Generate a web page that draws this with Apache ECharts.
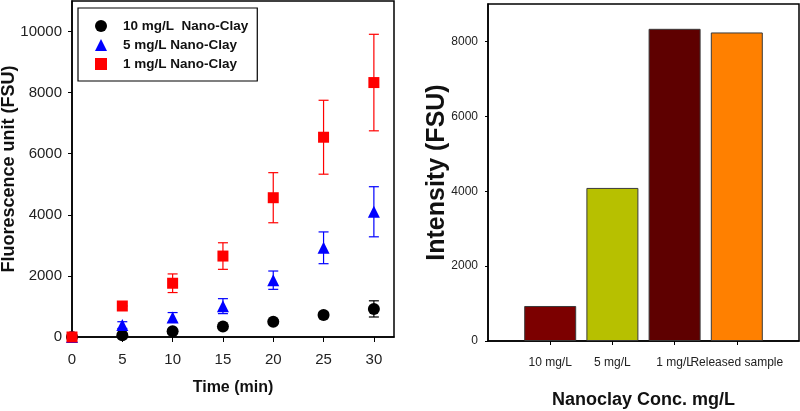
<!DOCTYPE html>
<html>
<head>
<meta charset="utf-8">
<script src="https://cdn.jsdelivr.net/npm/echarts@6/dist/echarts.min.js"></script>
<style>
  html, body { margin: 0; padding: 0; background: #fff; }
  #main { width: 800px; height: 411px; }
</style>
</head>
<body>
<div id="main"></div>
<script>
// ---- Data: left panel (fluorescence vs time) ----
const timePoints = [0, 5, 10, 15, 20, 25, 30];
const seriesNames = ['10 mg/L  Nano-Clay', '5 mg/L Nano-Clay', '1 mg/L Nano-Clay'];
const clay10Values = [0, 60, 190, 340, 500, 720, 920];
const clay10Errors = [0, 30, 60, 60, 70, 90, 265];
const clay5Values = [0, 390, 640, 1010, 1860, 2920, 4100];
const clay5Errors = [60, 110, 160, 245, 300, 520, 820];
const clay1Values = [0, 1015, 1760, 2650, 4560, 6540, 8330];
const clay1Errors = [0, 0, 305, 435, 820, 1210, 1580];
const xTickValues = [0, 5, 10, 15, 20, 25, 30];
const yTickValuesLeft = [0, 2000, 4000, 6000, 8000, 10000];

// ---- Data: right panel (intensity by concentration) ----
const barCategories = ['10 mg/L', '5 mg/L', '1 mg/L', 'Released sample'];
const barValues = [935, 4088, 8337, 8240];
const yTickValuesRight = [0, 2000, 4000, 6000, 8000];

const barColors = ['#7c0000', '#b7c000', '#5e0000', '#ff8000'];
const markerColors = ['#000000', '#0000ff', '#ff0000'];
const markerSymbols = ['circle', 'triangle', 'rect'];
const markerSizes = [12, 12, 11];

const FONT = "'Liberation Sans', Arial, sans-serif";
const plain = (v) => String(v);

const seriesValues = [clay10Values, clay5Values, clay1Values];
const seriesErrors = [clay10Errors, clay5Errors, clay1Errors];

const series = [];
seriesValues.forEach((vals, si) => {
  series.push({
    type: 'custom',
    xAxisIndex: 0, yAxisIndex: 0,
    silent: true,
    clip: false,
    z: 2,
    data: timePoints.map((t, i) => [t, vals[i] - seriesErrors[si][i], vals[i] + seriesErrors[si][i]]),
    renderItem: function (params, api) {
      const lo = api.coord([api.value(0), api.value(1)]);
      const hi = api.coord([api.value(0), api.value(2)]);
      const hw = 5;
      const st = { stroke: markerColors[si], lineWidth: 1.2 };
      return {
        type: 'group',
        children: [
          { type: 'line', shape: { x1: lo[0], y1: lo[1], x2: hi[0], y2: hi[1] }, style: st },
          { type: 'line', shape: { x1: lo[0] - hw, y1: lo[1], x2: lo[0] + hw, y2: lo[1] }, style: st },
          { type: 'line', shape: { x1: hi[0] - hw, y1: hi[1], x2: hi[0] + hw, y2: hi[1] }, style: st }
        ]
      };
    }
  });
});
seriesValues.forEach((vals, si) => {
  series.push({
    name: seriesNames[si],
    type: 'scatter',
    xAxisIndex: 0, yAxisIndex: 0,
    symbol: markerSymbols[si],
    symbolSize: markerSizes[si],
    clip: false,
    z: 3,
    itemStyle: { color: markerColors[si], opacity: 1 },
    data: timePoints.map((t, i) => [t, vals[i]])
  });
});

const paddedCats = [''].concat(barCategories, ['']);
series.push({
  type: 'bar',
  xAxisIndex: 1, yAxisIndex: 1,
  barWidth: 52,
  data: [null].concat(barValues.map((v, i) => ({
    value: v,
    itemStyle: { color: barColors[i], borderColor: '#3a3a3a', borderWidth: 1 }
  })), [null])
});

const chart = echarts.init(document.getElementById('main'));
chart.setOption({
  animation: false,
  backgroundColor: '#ffffff',
  legend: {
    show: true,
    orient: 'vertical',
    left: 78, top: 8,
    data: seriesNames.map((n, i) => ({ name: n, icon: markerSymbols[i] })),
    itemWidth: 12, itemHeight: 12,
    itemGap: 5,
    padding: [11, 9, 10, 17],
    borderColor: '#000', borderWidth: 1.2,
    textStyle: { fontFamily: FONT, fontWeight: 'bold', fontSize: 13.5, color: '#111', padding: [0, 0, 0, 11] }
  },
  grid: [
    { left: 72, top: 1, width: 322, height: 336, show: true, borderColor: '#000', borderWidth: 1.5, backgroundColor: 'transparent', containLabel: false, outerBoundsMode: 'none' },
    { left: 488, top: 4, width: 311, height: 337, show: true, borderColor: '#000', borderWidth: 1.5, backgroundColor: 'transparent', containLabel: false, outerBoundsMode: 'none' }
  ],
  xAxis: [
    {
      gridIndex: 0, type: 'value', min: 0, max: 32,
      name: 'Time (min)', nameLocation: 'middle', nameGap: 43, nameMoveOverlap: false,
      nameTextStyle: { fontFamily: FONT, fontWeight: 'bold', fontSize: 16, color: '#111' },
      axisLine: { show: true, onZero: false, lineStyle: { color: '#000', width: 1.5 } },
      axisTick: { show: true, inside: false, length: 5, customValues: xTickValues, lineStyle: { color: '#000' } },
      axisLabel: { customValues: xTickValues, formatter: plain, margin: 15, fontFamily: FONT, fontSize: 15, color: '#222' },
      splitLine: { show: false }
    },
    {
      gridIndex: 1, type: 'category', data: paddedCats, boundaryGap: false,
      name: 'Nanoclay Conc. mg/L', nameLocation: 'middle', nameGap: 50, nameMoveOverlap: false,
      nameTextStyle: { fontFamily: FONT, fontWeight: 'bold', fontSize: 18, color: '#111' },
      axisLine: { show: true, lineStyle: { color: '#000', width: 1.5 } },
      axisTick: { show: true, inside: false, length: 4, interval: (i) => i >= 1 && i <= 4, lineStyle: { color: '#000' } },
      axisLabel: { interval: 0, hideOverlap: false, margin: 16, fontFamily: FONT, fontSize: 12, color: '#222' },
      splitLine: { show: false }
    }
  ],
  yAxis: [
    {
      gridIndex: 0, type: 'value', min: 0, max: 11000,
      name: 'Fluorescence unit (FSU)', nameLocation: 'middle', nameGap: 54, nameMoveOverlap: false,
      nameTextStyle: { fontFamily: FONT, fontWeight: 'bold', fontSize: 18, color: '#111' },
      axisLine: { show: true, onZero: false, lineStyle: { color: '#000', width: 1.5 } },
      axisTick: { show: true, inside: false, length: 4, customValues: yTickValuesLeft, lineStyle: { color: '#000' } },
      axisLabel: { customValues: yTickValuesLeft, formatter: plain, margin: 10, fontFamily: FONT, fontSize: 15, color: '#222' },
      splitLine: { show: false }
    },
    {
      gridIndex: 1, type: 'value', min: 0, max: 9000,
      name: 'Intensity (FSU)', nameLocation: 'middle', nameGap: 38, nameMoveOverlap: false,
      nameTextStyle: { fontFamily: FONT, fontWeight: 'bold', fontSize: 25, color: '#111' },
      axisLine: { show: true, onZero: false, lineStyle: { color: '#000', width: 1.5 } },
      axisTick: { show: true, inside: false, length: 3, customValues: yTickValuesRight, lineStyle: { color: '#000' } },
      axisLabel: { customValues: yTickValuesRight, formatter: plain, margin: 10, fontFamily: FONT, fontSize: 12, color: '#222' },
      splitLine: { show: false }
    }
  ],
  series: series
});
</script>
</body>
</html>
